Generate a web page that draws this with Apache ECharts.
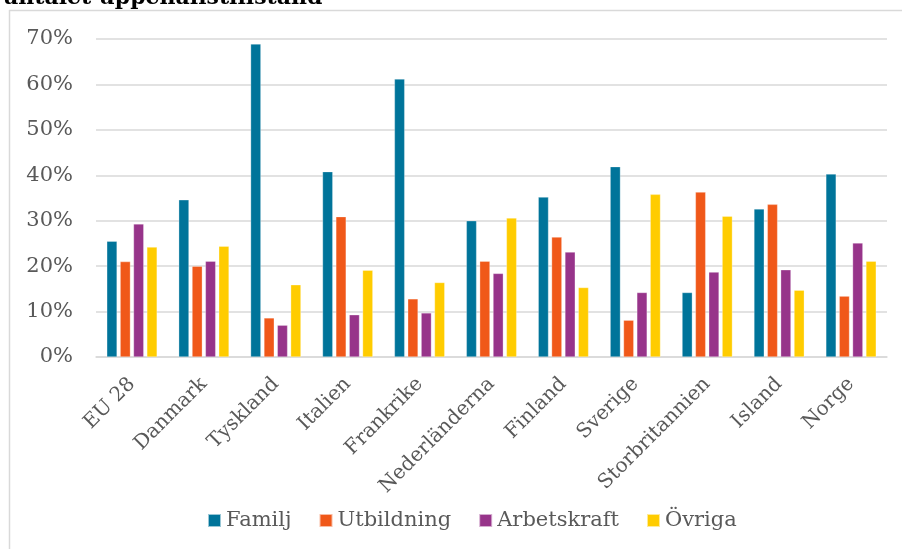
<!DOCTYPE html>
<html><head><meta charset="utf-8">
<script src="https://cdn.jsdelivr.net/npm/echarts@6/dist/echarts.min.js"></script>
<style>html,body{margin:0;padding:0;background:#fff}#c{width:902px;height:549px}</style>
</head><body><div id="c"></div>
<script>
const categories = ['EU 28','Danmark','Tyskland','Italien','Frankrike','Nederländerna','Finland','Sverige','Storbritannien','Island','Norge'];
const familj      = [25.5, 34.6, 68.9, 40.8, 61.2, 30.0, 35.2, 41.9, 14.2, 32.6, 40.3];
const utbildning  = [21.0, 20.0,  8.6, 30.9, 12.8, 21.1, 26.4,  8.1, 36.3, 33.6, 13.4];
const arbetskraft = [29.3, 21.1,  7.0,  9.3,  9.7, 18.4, 23.1, 14.2, 18.7, 19.2, 25.1];
const ovriga      = [24.2, 24.4, 15.9, 19.1, 16.4, 30.6, 15.3, 35.8, 31.0, 14.7, 21.1];
const seriesNames = ['Familj','Utbildning','Arbetskraft','Övriga'];
const colors = ['#00749A','#F05819','#97348A','#FFCC00'];
const yTicks = [0,10,20,30,40,50,60,70];
const titleText = 'antalet uppehållstillstånd';

const font = 'DejaVu Serif';
const chart = echarts.init(document.getElementById('c'));
const data = [familj, utbildning, arbetskraft, ovriga];
chart.setOption({
  animation: false,
  textStyle: { fontFamily: font },
  title: { text: titleText, left: -1, top: -18, textStyle: { fontFamily: font, fontSize: 22, fontWeight: 'bold', color: '#000' } },
  graphic: [
    { type: 'line', shape: { x1: 9, y1: 10.5, x2: 902, y2: 10.5 }, style: { stroke: '#D9D9D9', lineWidth: 1.5 } },
    { type: 'line', shape: { x1: 9.5, y1: 10, x2: 9.5, y2: 549 }, style: { stroke: '#D9D9D9', lineWidth: 1.5 } }
  ],
  color: colors,
  legend: {
    data: seriesNames.map(n => ({ name: n, textStyle: { fontFamily: 'DejaVu Serif, serif', fontSize: 21, color: '#595959' } })),
    top: 505, left: 202, itemWidth: 13, itemHeight: 13, itemGap: 27,
    icon: 'rect',
    textStyle: { fontFamily: 'DejaVu Serif, serif', fontSize: 21, color: '#595959' }
  },
  grid: { left: 96, right: 15, top: 39, bottom: 192 },
  xAxis: {
    type: 'category', data: categories,
    axisLine: { lineStyle: { color: '#D9D9D9', width: 1.5 } },
    axisTick: { show: false },
    axisLabel: { rotate: 45, interval: 0, fontFamily: font, fontSize: 20, color: '#595959', margin: 24 }
  },
  yAxis: {
    type: 'value', min: 0, max: 70, interval: 10,
    axisLine: { show: false }, axisTick: { show: false },
    splitLine: { lineStyle: { color: '#D9D9D9', width: 1.5 } },
    axisLabel: { fontFamily: font, fontSize: 21, color: '#595959', margin: 23,
      formatter: v => yTicks.includes(v) ? v + '%' : '' }
  },
  series: seriesNames.map((n, i) => ({
    name: n, type: 'bar', data: data[i],
    barGap: '30%', barCategoryGap: '30%',
    itemStyle: { color: colors[i], borderColor: 'rgba(255,255,255,0.6)', borderWidth: 0.5 }
  }))
});
</script></body></html>
